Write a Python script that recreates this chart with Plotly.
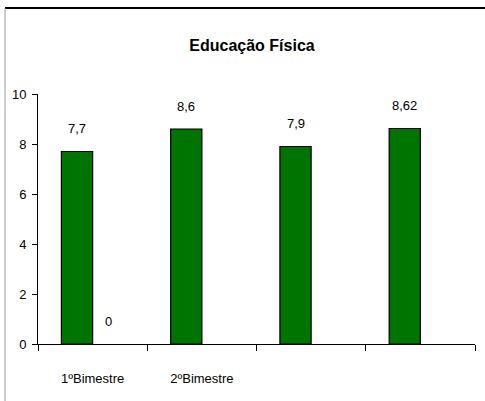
import plotly.graph_objects as go

categories = ["1º Bimestre", "2º Bimestre", "3º Bimestre", "4º Bimestre"]
tick_labels = ["1ºBimestre", "2ºBimestre", "", ""]
series1 = [7.7, 8.6, 7.9, 8.62]
series2 = [0, None, None, None]
title = "Educação Física"

FONT = "Liberation Sans Narrow, Arial Narrow, Liberation Sans, Arial, sans-serif"

W, H = 485, 401
L, R, T, B = 38, 10, 94, 57
pw, ph = W - L - R, H - T - B

fig = go.Figure()
fig.add_trace(go.Bar(
    x=categories, y=series1, name="s1",
    marker=dict(color="#007400", line=dict(color="black", width=1.2)),
))
fig.add_trace(go.Bar(
    x=categories, y=series2, name="s2",
    marker=dict(color="#007400", line=dict(color="black", width=0)),
))

def fmt(v):
    return ("%g" % v).replace(".", ",")

# value labels, shifted to each bar's slot within its group
slot = pw / 4 * (1 - 0.4286) / 2
for series, sign in ((series1, -1), (series2, 1)):
    for c, v in zip(categories, series):
        if v is None:
            continue
        fig.add_annotation(x=c, y=v, xref="x", yref="y", text=fmt(v),
                           showarrow=False, xshift=sign * slot / 2, yshift=23,
                           font=dict(family=FONT, size=13, color="black"))

# outer chart frame (partially cropped)
fig.add_shape(type="line", xref="paper", yref="paper",
              x0=(5 - L) / pw, x1=(W + 5 - L) / pw,
              y0=(H - B - 8) / ph, y1=(H - B - 8) / ph,
              line=dict(color="black", width=2))
fig.add_shape(type="line", xref="paper", yref="paper",
              x0=(5 - L) / pw, x1=(5 - L) / pw,
              y0=(H - B - 8) / ph, y1=(H - B - H - 5) / ph,
              line=dict(color="#9a9a9a", width=1))

fig.update_layout(
    width=W, height=H, autosize=False,
    margin=dict(l=L, r=R, t=T, b=B, pad=0),
    paper_bgcolor="white", plot_bgcolor="white",
    barmode="group", bargap=0.4286, bargroupgap=0,
    showlegend=False,
    title=dict(text="<b>" + title + "</b>", x=252 / W, xanchor="center",
               y=1 - 45 / H, yanchor="middle",
               font=dict(family=FONT, size=16, color="black")),
    font=dict(family=FONT, size=13, color="black"),
)
fig.update_xaxes(
    type="category", tickmode="array", tickvals=categories, ticktext=tick_labels,
    tickson="boundaries", ticks="outside", ticklen=6, tickcolor="black",
    showline=True, linecolor="black", linewidth=1, showgrid=False,
    ticklabelstandoff=22, tickfont=dict(family=FONT, size=13),
)
fig.update_yaxes(
    range=[0, 10], dtick=2, ticks="outside", ticklen=5, tickcolor="black",
    showline=True, linecolor="black", linewidth=1, showgrid=False, zeroline=False,
    ticklabelstandoff=3, tickfont=dict(family=FONT, size=13),
)

fig.write_html("out.html", config={"displayModeBar": False},
               post_script="document.body.style.margin='0';")
